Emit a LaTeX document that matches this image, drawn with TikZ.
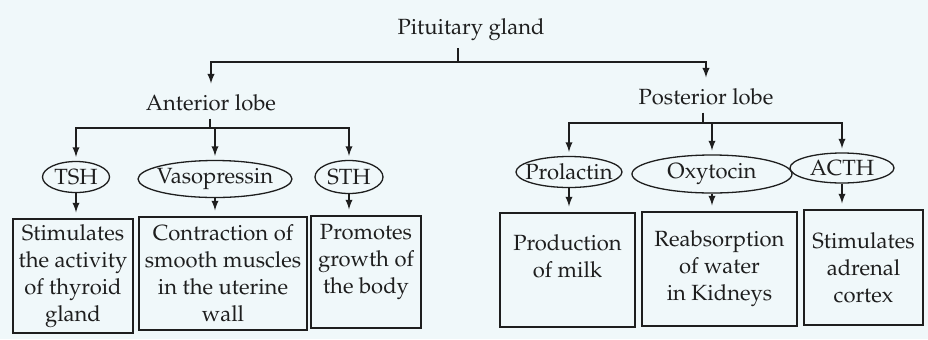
\documentclass[tikz,border=0pt]{standalone}
\usepackage[T1]{fontenc}
\usepackage{mathpazo}
\usetikzlibrary{shapes.geometric}
\definecolor{paper}{RGB}{240,248,250}
\definecolor{ink}{RGB}{30,30,30}
\tikzset{
	hormone/.style={draw, ellipse, inner xsep=-20pt, inner ysep=-10pt},
	effect/.style={draw, rectangle, align=center, inner sep=0pt},
	link/.style={-latex, shorten >=2pt},
}

\begin{document}
\begin{tikzpicture}[x=0.5pt, y=-0.5pt, line width=0.65pt, color=ink, font=\fontsize{11}{13.5}\selectfont]
			%%%%% START %%%%%
			
			\fill[paper] (0, 0) rectangle (928, 339);
			\useasboundingbox (0, 0) rectangle (928, 339);
			
			\node (gland) at (471, 30) {Pituitary gland};
			\node (ant) at (211, 103) {Anterior lobe};
			\node (post) at (706, 97) {Posterior lobe};
			
			\coordinate (gj) at (458, 62);
			\draw (gland.south -| gj) -- (gj);
			\draw[link] (gj) -| (ant.north);
			\draw[link] (gj) -| (post.north);
			
			\node[hormone, minimum width=33.5pt, minimum height=15.5pt] (tsh) at (76, 177) {TSH};
			\node[hormone, minimum width=77pt, minimum height=18.5pt] (vaso) at (215, 179) {Vasopressin};
			\node[hormone, minimum width=34pt, minimum height=16.5pt] (sth) at (349, 177) {STH};
			
			\node[hormone, minimum width=53pt, minimum height=15.5pt] (prl) at (569, 172) {Prolactin};
			\node[hormone, minimum width=80pt, minimum height=19pt] (oxy) at (712, 174) {Oxytocin};
			\node[hormone, minimum width=52pt, minimum height=15pt] (acth) at (842, 168) {ACTH};
			
			\coordinate (aj) at (210, 128);
			\draw (ant.south -| aj) -- (aj);
			\draw[link] (aj) -| (tsh.north);
			\draw[link] (aj) -| (vaso.north);
			\draw[link] (aj) -| (sth.north);
			
			\coordinate (pj) at (703, 123);
			\draw (post.south -| pj) -- (pj);
			\draw[link] (pj) -| (prl.north);
			\draw[link] (pj) -| (oxy.north);
			\draw[link] (pj) -| (acth.north);
			
			\node[effect, minimum width=60pt, minimum height=57pt] (thyroid) at (73, 276) {Stimulates\\the activity\\of thyroid\\gland};
			\node[effect, minimum width=84pt, minimum height=56.5pt] (uterus) at (223, 273.5) {Contraction of\\smooth muscles\\in the uterine\\wall};
			\node[effect, minimum width=55pt, minimum height=56pt] (growth) at (366, 272) {Promotes\\growth of\\the body\\~};
			
			\node[effect, minimum width=67.5pt, minimum height=57pt] (milk) at (567.5, 270) {Production\\of milk\\~};
			\node[effect, minimum width=77.5pt, minimum height=57pt] (water) at (719.5, 269) {Reabsorption\\of water\\in Kidneys};
			\node[effect, minimum width=59.5pt, minimum height=57.5pt] (adrenal) at (863.5, 267.5) {Stimulates\\adrenal\\cortex};
			
			\draw[link, shorten >=3pt] (tsh.south) -- (tsh.south |- thyroid.north);
			\draw[link, shorten >=3pt] (vaso.south) -- (vaso.south |- uterus.north);
			\draw[link, shorten >=3pt] (sth.south) -- (sth.south |- growth.north);
			\draw[link, shorten >=3pt] (prl.south) -- (prl.south |- milk.north);
			\draw[link, shorten >=3pt] (oxy.south) -- (oxy.south |- water.north);
			\draw[link, shorten >=3pt] (acth.south) -- (acth.south |- adrenal.north);
			
			%%%%% END %%%%%
\end{tikzpicture}
\end{document}
